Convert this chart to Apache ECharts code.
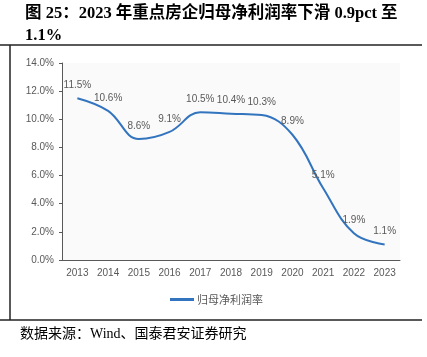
<!DOCTYPE html>
<html>
<head>
<meta charset="utf-8">
<script src="https://cdn.jsdelivr.net/npm/echarts@6/dist/echarts.min.js"></script>
<style>html,body{margin:0;padding:0;background:#fff;}#c{width:427px;height:357px;}</style>
</head>
<body>
<div id="c"></div>
<script>
const categories = ['2013','2014','2015','2016','2017','2018','2019','2020','2021','2022','2023'];
const netMargin = [11.5, 10.6, 8.6, 9.1, 10.5, 10.4, 10.3, 8.9, 5.1, 1.9, 1.1];
const seriesName = '归母净利润率';
const yTicks = { min: 0, max: 14, interval: 2 };
const titleLines = ['图 25：2023 年重点房企归母净利润率下滑 0.9pct 至', '1.1%'];
const sourceText = '数据来源：Wind、国泰君安证券研究';

const chart = echarts.init(document.getElementById('c'), null, {renderer: 'canvas'});
const labelColor = '#595959';
chart.setOption({
  animation: false,
  backgroundColor: '#fff',
  title: {
    text: titleLines.join('\n'),
    left: 20, top: -2,
    textStyle: {fontFamily: '"Liberation Serif","Noto Sans CJK SC"', fontWeight: 'bold', fontSize: 16.5, lineHeight: 22, color: '#000'}
  },
  graphic: [
    {type: 'line', shape: {x1: 0, y1: 45, x2: 422, y2: 45}, style: {stroke: '#222', lineWidth: 1.5}},
    {type: 'line', shape: {x1: 10, y1: 45, x2: 10, y2: 320}, style: {stroke: '#222', lineWidth: 1.5}},
    {type: 'line', shape: {x1: 0, y1: 320, x2: 422, y2: 320}, style: {stroke: '#222', lineWidth: 1.5}},
    {type: 'text', left: 20, top: 327, style: {text: sourceText, font: '14px "Liberation Serif","Noto Sans CJK SC"', fill: '#000'}}
  ],
  legend: {
    data: [seriesName], left: 165, top: 289,
    itemWidth: 24, itemHeight: 3, itemGap: 4,
    icon: 'rect',
    textStyle: {color: labelColor, fontSize: 11, fontFamily: '"Noto Sans CJK SC"', padding: [0,0,0,-2]}
  },
  grid: {left: 62, right: 27, top: 63, bottom: 97, show: true, backgroundColor: '#fafafa', borderWidth: 0},
  xAxis: {
    type: 'category', data: categories, boundaryGap: true,
    axisLine: {lineStyle: {color: '#595959', width: 1}},
    axisTick: {inside: true, length: 3, lineStyle: {color: '#595959'}},
    axisLabel: {color: labelColor, fontSize: 10, margin: 8, fontFamily: '"Liberation Sans",Arial'}
  },
  yAxis: {
    type: 'value', min: yTicks.min, max: yTicks.max, interval: yTicks.interval,
    axisLine: {show: true, lineStyle: {color: '#595959', width: 1}},
    axisTick: {show: true, length: 3, lineStyle: {color: '#595959'}},
    splitLine: {show: false},
    axisLabel: {color: labelColor, fontSize: 10, margin: 8, fontFamily: '"Liberation Sans",Arial', formatter: v => v.toFixed(1) + '%'}
  },
  series: [{
    name: seriesName, type: 'line', data: netMargin, smooth: 0.4,
    symbol: 'circle', symbolSize: 0.1, showSymbol: true,
    lineStyle: {color: '#3274be', width: 2}, itemStyle: {color: '#3274be'},
    label: {show: true, position: 'top', distance: 8, color: labelColor, fontSize: 10, fontFamily: '"Liberation Sans",Arial', formatter: p => p.value.toFixed(1) + '%'}
  }]
});
</script>
</body>
</html>
